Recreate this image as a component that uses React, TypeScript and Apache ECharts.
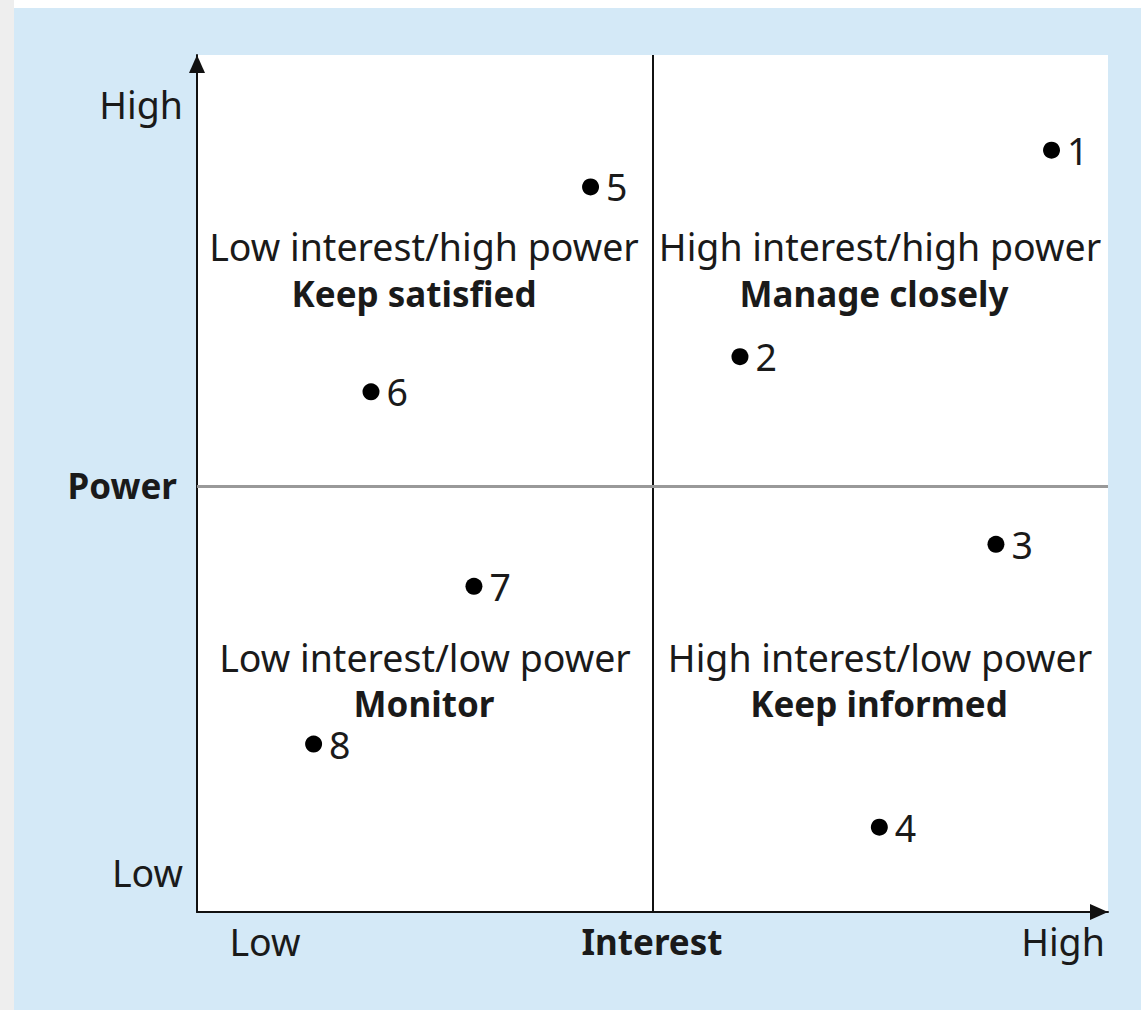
import React, { useEffect, useRef } from "react";
import * as echarts from "echarts";

const stakeholderIds = ["1", "2", "3", "4", "5", "6", "7", "8"];
const interestValues = [9.38, 5.96, 8.77, 7.49, 4.32, 1.91, 3.04, 1.28];
const powerValues = [8.89, 6.48, 4.29, 0.99, 8.46, 6.07, 3.8, 1.96];

const yTickLabels = ["High", "Power", "Low"];
const xTickLabels = ["Low", "Interest", "High"];

const quadrantTitles = [
  "Low interest/high power",
  "High interest/high power",
  "Low interest/low power",
  "High interest/low power",
];
const quadrantActions = ["Keep satisfied", "Manage closely", "Monitor", "Keep informed"];

const FONT = "Noto Sans";
const FS = 37.5;
const FSB = 35;
const TXT = "#1a1a1a";

export default function App() {
  const ref = useRef<HTMLDivElement>(null);
  useEffect(() => {
    const chart = echarts.init(ref.current!, null, { renderer: "svg" });
    const data = stakeholderIds.map((id, i) => [interestValues[i], powerValues[i], id]);

    const qPos = [
      [424, 246, 414, 293],
      [880, 246, 874, 293],
      [425, 657, 424, 703],
      [880, 657, 879, 703],
    ];
    const qText: any[] = [];
    quadrantTitles.forEach((t, i) => {
      qText.push({
        type: "text",
        x: qPos[i][0],
        y: qPos[i][1],
        z: 10,
        style: { text: t, font: `${FS}px "${FONT}"`, fill: TXT, textAlign: "center", textVerticalAlign: "middle" },
      });
      qText.push({
        type: "text",
        x: qPos[i][2],
        y: qPos[i][3],
        z: 10,
        style: { text: quadrantActions[i], font: `bold ${FSB}px "${FONT}"`, fill: TXT, textAlign: "center", textVerticalAlign: "middle" },
      });
    });

    const yPos = [
      [183, 104, false],
      [177, 485, true],
      [183, 872, false],
    ];
    const xPos = [
      [265, 941, false],
      [652, 941, true],
      [1063, 941, false],
    ];
    const axisText: any[] = [];
    yTickLabels.forEach((t, i) => {
      axisText.push({
        type: "text",
        x: yPos[i][0] as number,
        y: yPos[i][1] as number,
        style: { text: t, font: `${yPos[i][2] ? "bold " : ""}${yPos[i][2] ? FSB : FS}px "${FONT}"`, fill: TXT, textAlign: "right", textVerticalAlign: "middle" },
      });
    });
    xTickLabels.forEach((t, i) => {
      axisText.push({
        type: "text",
        x: xPos[i][0] as number,
        y: xPos[i][1] as number,
        style: { text: t, font: `${xPos[i][2] ? "bold " : ""}${xPos[i][2] ? FSB : FS}px "${FONT}"`, fill: TXT, textAlign: "center", textVerticalAlign: "middle" },
      });
    });

    const axisLine = {
      show: true,
      onZero: false,
      symbol: ["none", "triangle"],
      symbolSize: [16, 18],
      symbolOffset: [0, -9],
      lineStyle: { color: "#111111", width: 2 },
    };

    chart.setOption({
      animation: false,
      backgroundColor: "#ffffff",
      graphic: [
        { type: "rect", z: -10, shape: { x: 0, y: 0, width: 14, height: 1010 }, style: { fill: "#eeeeee" } },
        { type: "rect", z: -10, shape: { x: 14, y: 8, width: 1127, height: 1002 }, style: { fill: "#d4e9f7" } },
        ...axisText,
        ...qText,
      ],
      grid: {
        left: 197,
        top: 55,
        right: 33,
        bottom: 98,
        show: true,
        backgroundColor: "#ffffff",
        borderWidth: 0,
      },
      xAxis: {
        type: "value",
        min: 0,
        max: 10,
        axisLine,
        axisTick: { show: false },
        axisLabel: { show: false },
        splitLine: { show: false },
      },
      yAxis: {
        type: "value",
        min: 0,
        max: 10,
        axisLine,
        axisTick: { show: false },
        axisLabel: { show: false },
        splitLine: { show: false },
      },
      series: [
        {
          type: "scatter",
          data,
          symbol: "circle",
          symbolSize: 17,
          itemStyle: { color: "#000000", opacity: 1 },
          z: 5,
          label: {
            show: true,
            position: "right",
            distance: 7,
            formatter: (p: any) => p.data[2],
            fontFamily: FONT,
            fontSize: FS,
            color: TXT,
            opacity: 1,
          },
          markLine: {
            silent: true,
            symbol: ["none", "none"],
            label: { show: false },
            data: [
              { xAxis: 5, lineStyle: { color: "#111111", width: 2, type: "solid", opacity: 1 } },
              { yAxis: 4.97, lineStyle: { color: "#999999", width: 3, type: "solid", opacity: 1 } },
            ],
          },
        },
      ],
    });
    return () => chart.dispose();
  }, []);
  return (
    <div
      ref={ref}
      style={{ position: "absolute", left: 0, top: 0, width: 1141, height: 1010 }}
    />
  );
}
